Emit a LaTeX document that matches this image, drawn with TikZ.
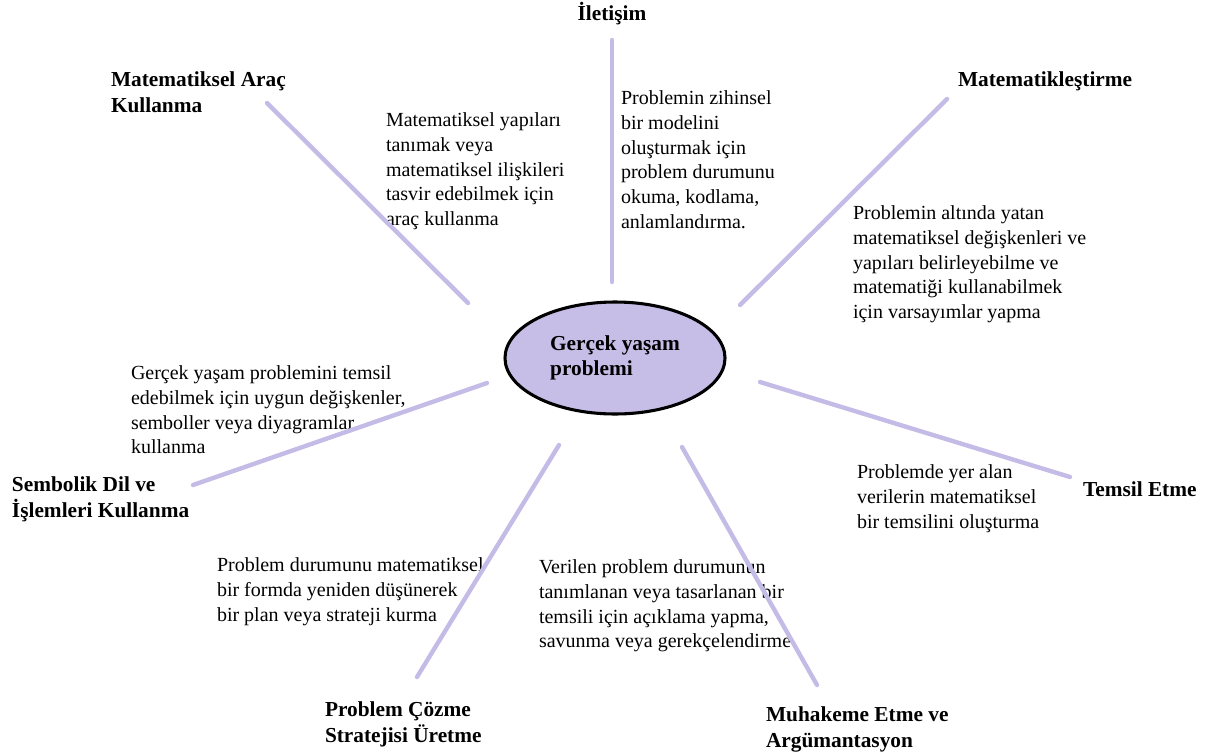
\documentclass[tikz,border=0pt]{standalone}
\usepackage{fontspec}
\setmainfont{Liberation Serif}
\usetikzlibrary{shapes.geometric}
\definecolor{spoke}{RGB}{196,188,230}
\definecolor{hubfill}{RGB}{198,190,231}
\begin{document}
\begin{tikzpicture}[x=0.75pt,y=-0.75pt,
  every node/.style={inner sep=0pt,outer sep=0pt},
  txt/.style={font=\fontsize{15pt}{18.5pt}\selectfont,align=left,anchor=north west},
  title/.style={txt,font=\fontsize{16pt}{19pt}\selectfont\bfseries},
  spokeline/.style={draw=spoke,line width=3.3pt,line cap=round}]
\useasboundingbox (0,0) rectangle (1213,753);

% central ellipse
\node[ellipse,draw=black,line width=2.3pt,fill=hubfill,
      minimum width=165pt,minimum height=84pt,
      font=\fontsize{16pt}{18.5pt}\selectfont\bfseries,align=left]
  (hub) at (615,358) {Gerçek yaşam\\problemi};

% competency titles
\node[font=\fontsize{16pt}{19pt}\selectfont\bfseries,anchor=base] (iletisim) at (612,21) {İletişim};
\node[title] (arac) at (111,72) {Matematiksel Araç\\Kullanma};
\node[title] (matlas) at (958,72) {Matematikleştirme};
\node[title] (sembol) at (12,477) {Sembolik Dil ve\\İşlemleri Kullanma};
\node[title] (temsil) at (1083,482) {Temsil Etme};
\node[title] (cozme) at (325,702) {Problem Çözme\\Stratejisi Üretme};
\node[title] (muhakeme) at (766,707) {Muhakeme Etme ve\\Argümantasyon};

% descriptions
\node[txt] (d1) at (386,113) {Matematiksel yapıları\\tanımak veya\\matematiksel ilişkileri\\tasvir edebilmek için\\araç kullanma};
\node[txt] (d2) at (621,91) {Problemin zihinsel\\bir modelini\\oluşturmak için\\problem durumunu\\okuma, kodlama,\\anlamlandırma.};
\node[txt] (d3) at (853,206) {Problemin altında yatan\\matematiksel değişkenleri ve\\yapıları belirleyebilme ve\\matematiği kullanabilmek\\için varsayımlar yapma};
\node[txt] (d4) at (131,366) {Gerçek yaşam problemini temsil\\edebilmek için uygun değişkenler,\\semboller veya diyagramlar\\kullanma};
\node[txt] (d5) at (857,465) {Problemde yer alan\\verilerin matematiksel\\bir temsilini oluşturma};
\node[txt] (d6) at (217,558) {Problem durumunu matematiksel\\bir formda yeniden düşünerek\\bir plan veya strateji kurma};
\node[txt] (d7) at (539,560) {Verilen problem durumunun\\tanımlanan veya tasarlanan bir\\temsili için açıklama yapma,\\savunma veya gerekçelendirme};

% spoke end points
\coordinate (sTopA) at (612,40);   \coordinate (sTopB) at (612,282);
\coordinate (sUlA) at (267,103);   \coordinate (sUlB) at (468,303);
\coordinate (sUrA) at (947,99);    \coordinate (sUrB) at (740,305);
\coordinate (sLA) at (193,485);    \coordinate (sLB) at (487,383);
\coordinate (sRA) at (760,382);    \coordinate (sRB) at (1070,477);
\coordinate (sLlA) at (559,445);   \coordinate (sLlB) at (417,677);
\coordinate (sLrA) at (682,447);   \coordinate (sLrB) at (817,685);

% spokes
\draw[spokeline] (sTopA) -- (sTopB);
\draw[spokeline] (sUlA) -- (sUlB);
\draw[spokeline] (sUrA) -- (sUrB);
\draw[spokeline] (sLA) -- (sLB);
\draw[spokeline] (sRA) -- (sRB);
\draw[spokeline] (sLlA) -- (sLlB);
\draw[spokeline] (sLrA) -- (sLrB);
\end{tikzpicture}
\end{document}
